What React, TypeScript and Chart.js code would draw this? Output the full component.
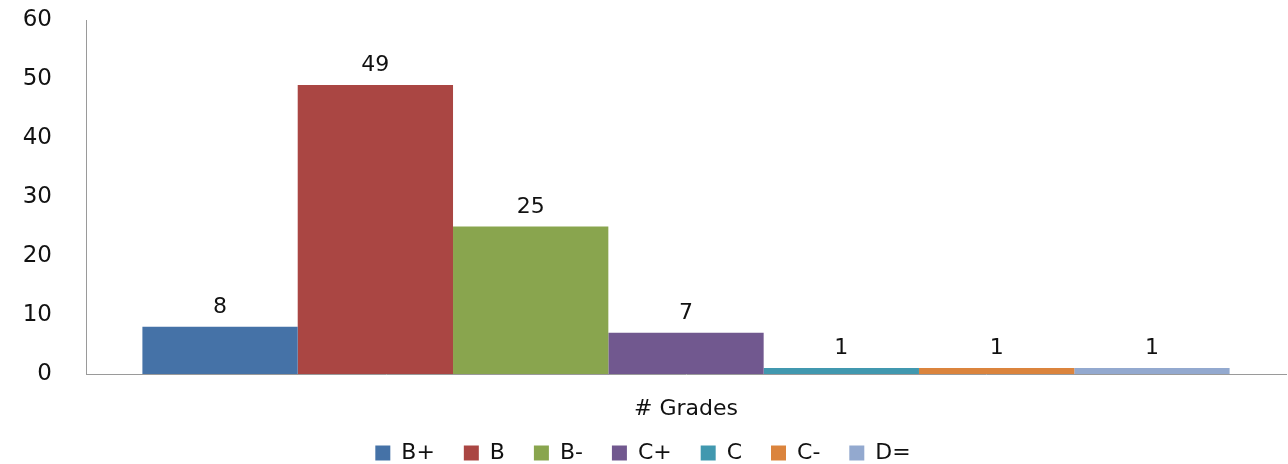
import React, { useEffect, useRef } from "react";
import { Chart, registerables } from "chart.js";

Chart.register(...registerables);

const categories = ["# Grades"];
const gradeLabels = ["B+", "B", "B-", "C+", "C", "C-", "D="];
const gradeCounts = [8, 49, 25, 7, 1, 1, 1];
const gradeColors = ["#4572A7", "#AA4643", "#89A54E", "#71588F", "#4198AF", "#DB843D", "#93A9CF"];
const yTicks = [0, 10, 20, 30, 40, 50, 60];

const FONT = "'DejaVu Sans', Verdana, sans-serif";
const TEXT = "#111";

const valueLabels = {
  id: "valueLabels",
  afterDatasetsDraw(chart: any) {
    const ctx = chart.ctx;
    ctx.save();
    ctx.font = `22px ${FONT}`;
    ctx.fillStyle = TEXT;
    ctx.textAlign = "center";
    ctx.textBaseline = "alphabetic";
    chart.data.datasets.forEach((ds: any, i: number) => {
      const meta = chart.getDatasetMeta(i);
      meta.data.forEach((bar: any, j: number) => {
        ctx.fillText(String(ds.data[j]), bar.x, bar.y - 14);
      });
    });
    ctx.restore();
  },
};

export default function App() {
  const ref = useRef<HTMLCanvasElement | null>(null);
  useEffect(() => {
    document.body.style.margin = "0";
    const canvas = ref.current!;
    const chart = new Chart(canvas, {
      type: "bar",
      data: {
        labels: categories,
        datasets: gradeLabels.map((g, i) => ({
          label: g,
          data: [gradeCounts[i]],
          backgroundColor: gradeColors[i],
          borderWidth: 0,
          categoryPercentage: 0.906,
          barPercentage: 1,
        })),
      },
      options: {
        responsive: false,
        animation: false,
        layout: { padding: { top: 20, right: 2, left: 0, bottom: -10 } },
        plugins: {
          tooltip: { enabled: false },
          legend: {
            position: "bottom",
            labels: {
              boxWidth: 15,
              boxHeight: 15,
              padding: 8,
              color: TEXT,
              font: { family: FONT, size: 22 },
              generateLabels: (c: any) => {
                const items = Chart.defaults.plugins.legend.labels.generateLabels(c);
                return items.map((it: any, i: number) => ({
                  ...it,
                  lineWidth: 0,
                  text: i < items.length - 1 ? it.text + "\u00a0\u00a0\u00a0" : it.text,
                }));
              },
            },
          },
        },
        scales: {
          x: {
            grid: { display: false, drawTicks: true, tickLength: 18 },
            border: { display: true, color: "#9a9a9a", width: 1 },
            ticks: { color: TEXT, padding: 4, font: { family: FONT, size: 22 } },
            afterFit: (s: any) => {
              s.height = 60;
            },
          },
          y: {
            min: 0,
            max: 60,
            afterBuildTicks: (s: any) => {
              s.ticks = yTicks.map((v) => ({ value: v }));
            },
            grid: { display: false, drawTicks: true, tickLength: 30 },
            border: { display: true, color: "#9a9a9a", width: 1 },
            ticks: { color: TEXT, padding: 4, font: { family: FONT, size: 23 } },
            afterFit: (s: any) => {
              s.width = 86;
            },
          },
        },
      },
      plugins: [valueLabels],
    });
    return () => chart.destroy();
  }, []);
  return <canvas ref={ref} width={1288} height={464} style={{ display: "block" }} />;
}
